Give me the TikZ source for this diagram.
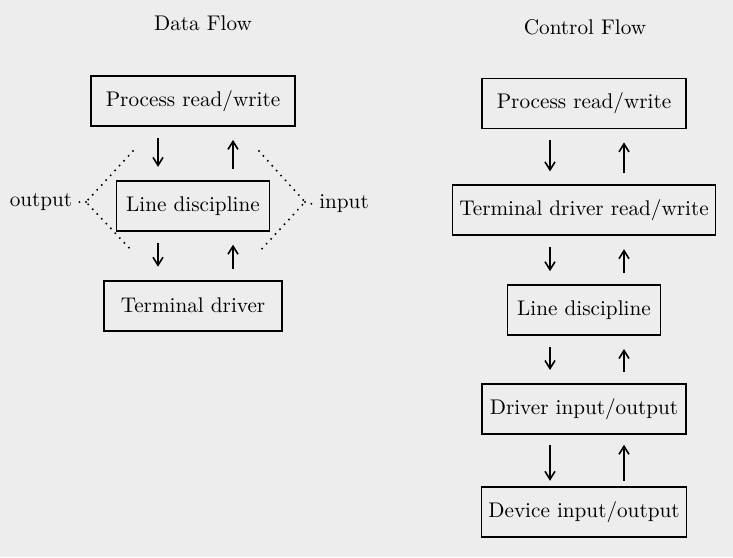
\documentclass[tikz,border=0pt]{standalone}
\usepackage{tikz}
\usetikzlibrary{positioning, arrows.meta, calc}
\tikzset{
    flow_box/.style={rectangle, minimum height=25pt, text centered, align=center, draw=black, line width=0.9pt, font=\fontsize{10.6pt}{13pt}\selectfont},
    flow_text/.style={text centered, align=center, font=\fontsize{10.6pt}{13pt}\selectfont},
    arrow/.style={line width=0.8pt, -{Straight Barb[length=4pt,width=5pt]}, shorten <=5.5pt, shorten >=6.5pt},
    dotted_line/.style={line width=1.1pt, line cap=round, dash pattern=on 0pt off 3.3pt},
}

\begin{document}
\begin{tikzpicture}[x=0.5pt, y=-0.5pt]
      \fill [black!7] (0,0) rectangle (733,557);
      \useasboundingbox (0,0) rectangle (733,557);
      %%%%%%%%%%%%%
      % Data Flow %
      %%%%%%%%%%%%%
      \node (data_title) [flow_text] at (203,23)
          {Data Flow};
      \node (proc_d) [flow_box, minimum width=102pt] at (193,101)
          {Process read/write};
      \node (ld_d) [flow_box, minimum width=76.5pt, below = 26.5pt of proc_d]
          {Line discipline};
      \node (term_d) [flow_box, minimum width=89pt, below = 24pt of ld_d]
          {Terminal driver};
      \node (output) [flow_text] at (41,202)
          {output};
      \node (input) [flow_text] at (344,204)
          {input};

      \draw [arrow] ([xshift=-17.5pt]proc_d.south) -- ([xshift=-17.5pt]ld_d.north);
      \draw [arrow] ([xshift=20pt]ld_d.north) -- ([xshift=20pt]proc_d.south);
      \draw [arrow] ([xshift=-17.5pt]ld_d.south) -- ([xshift=-17.5pt]term_d.north);
      \draw [arrow] ([xshift=20pt]term_d.north) -- ([xshift=20pt]ld_d.south);

      \coordinate (out_top) at (133,151);
      \coordinate (out_tip) at (86,202);
      \coordinate (out_bot) at (133,252);
      \coordinate (in_top) at (259,151);
      \coordinate (in_tip) at (305,202);
      \coordinate (in_bot) at (259,252);
      \draw [dotted_line] (out_top) -- (out_tip) -- (out_bot);
      \draw [dotted_line] (out_tip) -- (output.east);
      \draw [dotted_line] (in_top) -- (in_tip) -- (in_bot);
      \draw [dotted_line] (in_tip) -- (input.west);

      %%%%%%%%%%%%%%%%
      % Control Flow %
      %%%%%%%%%%%%%%%%
      \node (ctrl_title) [flow_text] at (585,27)
          {Control Flow};
      \node (proc_c) [flow_box, minimum width=102pt] at (584,103.5)
          {Process read/write};
      \node (term_c) [flow_box, minimum width=131.5pt, below = 27.5pt of proc_c]
          {Terminal driver read/write};
      \node (ld_c) [flow_box, minimum width=76.5pt, below = 24pt of term_c]
          {Line discipline};
      \node (drv_c) [flow_box, minimum width=102pt, below = 23.5pt of ld_c]
          {Driver input/output};
      \node (dev_c) [flow_box, minimum width=102.5pt, below = 25.5pt of drv_c]
          {Device input/output};

      \draw [arrow] ([xshift=-17pt]proc_c.south) -- ([xshift=-17pt]term_c.north);
      \draw [arrow] ([xshift=20pt]term_c.north) -- ([xshift=20pt]proc_c.south);
      \draw [arrow] ([xshift=-17pt]term_c.south) -- ([xshift=-17pt]ld_c.north);
      \draw [arrow] ([xshift=20pt]ld_c.north) -- ([xshift=20pt]term_c.south);
      \draw [arrow] ([xshift=-17pt]ld_c.south) -- ([xshift=-17pt]drv_c.north);
      \draw [arrow] ([xshift=20pt]drv_c.north) -- ([xshift=20pt]ld_c.south);
      \draw [arrow, shorten <=5pt, shorten >=2.5pt] ([xshift=-17pt]drv_c.south) -- ([xshift=-17pt]dev_c.north);
      \draw [arrow, shorten <=2.5pt, shorten >=5pt] ([xshift=20pt]dev_c.north) -- ([xshift=20pt]drv_c.south);

    \end{tikzpicture}
\end{document}
